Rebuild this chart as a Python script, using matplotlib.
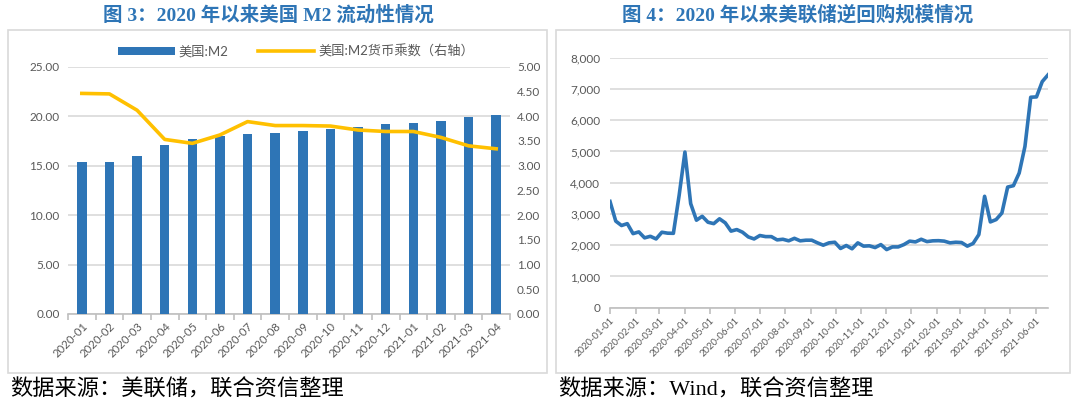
import matplotlib
matplotlib.use('Agg')
import matplotlib.pyplot as plt
import matplotlib.dates as mdates
import pandas as pd
import numpy as np
from matplotlib.patches import Rectangle, Patch
from matplotlib.lines import Line2D
from matplotlib.ticker import FuncFormatter, MultipleLocator

# ---------------- data ----------------
months = ['2020-01', '2020-02', '2020-03', '2020-04', '2020-05', '2020-06', '2020-07', '2020-08',
          '2020-09', '2020-10', '2020-11', '2020-12', '2021-01', '2021-02', '2021-03', '2021-04']
m2 = [15.35, 15.36, 16.0, 17.05, 17.7, 18.03, 18.2, 18.3,
      18.5, 18.67, 18.94, 19.18, 19.34, 19.48, 19.9, 20.15]
m2_multiplier = [4.46, 4.45, 4.12, 3.53, 3.45, 3.62, 3.89, 3.81,
                 3.81, 3.80, 3.72, 3.69, 3.69, 3.57, 3.40, 3.34]

rrp_start = '2020-01-01'  # weekly (Wednesday) observations
rrp = [3400, 2770, 2630, 2690, 2370, 2425, 2235, 2285, 2200, 2415,
       2385, 2380, 3600, 4980, 3330, 2800, 2925, 2735, 2690, 2845,
       2715, 2450, 2500, 2415, 2265, 2200, 2310, 2275, 2275, 2170,
       2190, 2140, 2220, 2140, 2160, 2160, 2075, 2000, 2075, 2095,
       1895, 1990, 1885, 2075, 1970, 1980, 1925, 2020, 1860, 1945,
       1945, 2020, 2130, 2105, 2190, 2115, 2140, 2145, 2130, 2075,
       2095, 2085, 1970, 2055, 2340, 3565, 2745, 2820, 3030, 3860,
       3905, 4310, 5160, 6735, 6745, 7235, 7450]

title_left = '图 3：2020 年以来美国 M2 流动性情况'
title_right = '图 4：2020 年以来美联储逆回购规模情况'
legend_labels = ['美国:M2', '美国:M2货币乘数（右轴）']
source_left = '数据来源：美联储，联合资信整理'
source_right = '数据来源：Wind，联合资信整理'

# ---------------- style ----------------
plt.rcParams['font.family'] = ['Lato', 'Noto Sans CJK SC', 'DejaVu Sans']
BLUE = '#2E75B6'
YELLOW = '#FFC000'
GRID = '#D9D9D9'
AXIS = '#BFBFBF'
TXT = '#595959'
W, H = 1080, 408

fig = plt.figure(figsize=(W / 100, H / 100), dpi=100)

def fx(px):
    return px / W

def fy(py):
    return 1 - py / H

# panel boxes
fig.add_artist(Rectangle((fx(8), fy(373)), fx(547 - 8), (373 - 30) / H,
                         transform=fig.transFigure, fill=False, ec=GRID, lw=1.2))
fig.add_artist(Rectangle((fx(556), fy(373)), fx(1070 - 556), (373 - 30) / H,
                         transform=fig.transFigure, fill=False, ec=GRID, lw=1.2))

# ---------------- left chart ----------------
ax1 = fig.add_axes([fx(68), fy(314), fx(510 - 68), (314 - 66.7) / H])
x = np.arange(len(months))
ax1.bar(x, m2, width=0.34, color=BLUE, zorder=3)
ax1.set_xlim(-0.5, len(months) - 0.5)
ax1.set_ylim(0, 25)
ax1.yaxis.set_major_locator(MultipleLocator(5))
ax1.yaxis.set_major_formatter(FuncFormatter(lambda v, p: f'{v:.2f}'))
ax1.yaxis.grid(True, color=GRID, lw=1.2)
ax1.set_axisbelow(True)
for s in ['top', 'left', 'right']:
    ax1.spines[s].set_visible(False)
ax1.spines['bottom'].set_color(AXIS)
ax1.spines['bottom'].set_linewidth(1.2)
ax1.tick_params(axis='y', length=0, labelsize=8.5, labelcolor=TXT, pad=6)
ax1.set_xticks(x)
ax1.set_xticklabels(months, rotation=45, ha='right', va='top', rotation_mode='anchor',
                    fontsize=8.2, color=TXT)
ax1.tick_params(axis='x', which='major', length=0, pad=5)
ax1.set_xticks(np.arange(-0.5, len(months), 1), minor=True)
ax1.tick_params(axis='x', which='minor', length=4, color=AXIS, width=1.2)

ax2 = ax1.twinx()
ax2.plot(x, m2_multiplier, color=YELLOW, lw=2.6, zorder=4, solid_joinstyle='round')
ax2.set_ylim(0, 5)
ax2.yaxis.set_major_locator(MultipleLocator(0.5))
ax2.yaxis.set_major_formatter(FuncFormatter(lambda v, p: f'{v:.2f}'))
for s in ['top', 'left', 'right', 'bottom']:
    ax2.spines[s].set_visible(False)
ax2.tick_params(axis='y', length=0, labelsize=8.5, labelcolor=TXT, pad=5)

handles = [Patch(facecolor=BLUE, edgecolor='none'),
           Line2D([], [], color=YELLOW, lw=2.6)]
fig.legend(handles, legend_labels, loc='center', bbox_to_anchor=(fx(296), fy(51)),
           ncol=2, frameon=False, fontsize=9.5, handlelength=4.3, handleheight=0.6,
           columnspacing=2.2, handletextpad=0.3, labelcolor=TXT)

# ---------------- right chart ----------------
dates = pd.date_range(rrp_start, periods=len(rrp), freq='7D')
ax3 = fig.add_axes([fx(610), fy(307.7), fx(1048 - 610), (307.7 - 57.7) / H])
ax3.plot(dates, rrp, color=BLUE, lw=2.6, solid_joinstyle='round')
ax3.set_xlim(dates[0], dates[-1])
ax3.set_ylim(0, 8000)
ax3.yaxis.set_major_locator(MultipleLocator(1000))
ax3.yaxis.set_major_formatter(FuncFormatter(lambda v, p: f'{v:,.0f}'))
ax3.yaxis.grid(True, color=GRID, lw=1.2)
ax3.set_axisbelow(True)
for s in ['top', 'left', 'right']:
    ax3.spines[s].set_visible(False)
ax3.spines['bottom'].set_color(AXIS)
ax3.spines['bottom'].set_linewidth(1.2)
ax3.tick_params(axis='y', length=0, labelsize=8.5, labelcolor=TXT, pad=7)
ax3.xaxis.set_major_locator(mdates.MonthLocator(bymonthday=1))
ax3.xaxis.set_major_formatter(mdates.DateFormatter('%Y-%m-%d'))
ax3.tick_params(axis='x', length=4, color=AXIS, width=1.2, pad=2)
for lbl in ax3.get_xticklabels():
    lbl.set_rotation(45)
    lbl.set_ha('right')
    lbl.set_va('top')
    lbl.set_rotation_mode('anchor')
    lbl.set_fontsize(6.8)
    lbl.set_color(TXT)

# ---------------- titles & sources ----------------
title_fam = ['Liberation Serif', 'Noto Sans CJK SC']
fig.text(fx(268.5), fy(15), title_left, ha='center', va='center', fontsize=14,
         fontweight='bold', color=BLUE, family=title_fam)
fig.text(fx(797.5), fy(15), title_right, ha='center', va='center', fontsize=14,
         fontweight='bold', color=BLUE, family=title_fam)
fig.text(fx(10), fy(390), source_left, ha='left', va='center', fontsize=16,
         color='black', family=title_fam)
fig.text(fx(558), fy(390), source_right, ha='left', va='center', fontsize=16,
         color='black', family=title_fam)

fig.savefig('out.png', dpi=100)
